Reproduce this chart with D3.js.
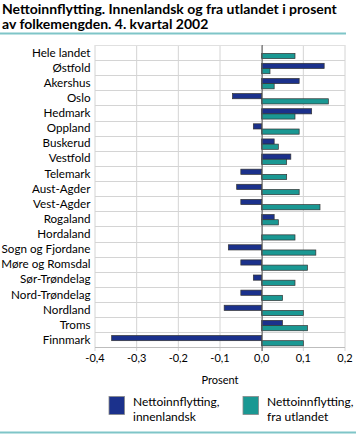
<!DOCTYPE html>
<html><head><meta charset="utf-8">
<script src="https://cdn.jsdelivr.net/npm/d3@7"></script>
<style>body{margin:0;background:#fff}svg{display:block}</style>
</head><body>
<svg id="c" width="356" height="434"></svg>
<script>
const categories = ["Hele landet","Østfold","Akershus","Oslo","Hedmark","Oppland","Buskerud","Vestfold","Telemark","Aust-Agder","Vest-Agder","Rogaland","Hordaland","Sogn og Fjordane","Møre og Romsdal","Sør-Trøndelag","Nord-Trøndelag","Nordland","Troms","Finnmark"];
const innenlandsk = [0.00,0.15,0.09,-0.07,0.12,-0.02,0.03,0.07,-0.05,-0.06,-0.05,0.03,0.00,-0.08,-0.05,-0.02,-0.05,-0.09,0.05,-0.36];
const utlandet = [0.08,0.02,0.03,0.16,0.08,0.09,0.04,0.06,0.06,0.09,0.14,0.04,0.08,0.13,0.11,0.08,0.05,0.10,0.11,0.10];
const ticks = [-0.4,-0.3,-0.2,-0.1,0.0,0.1,0.2];
const seriesNames = [["Nettoinnflytting,","innenlandsk"],["Nettoinnflytting,","fra utlandet"]];
const titleLines = ["Nettoinnflytting. Innenlandsk og fra utlandet i prosent","av folkemengden. 4. kvartal 2002"];
const axisTitle = "Prosent";

const colors = ["#1b318c","#1a9893"];
const font = "Lato, sans-serif";
const svg = d3.select("#c");

function fitSize(text, base, target, weight){
  const t = svg.append("text").attr("font-family",font).attr("font-size",base)
    .attr("font-weight",weight||"normal").text(text);
  const w = t.node().getComputedTextLength();
  t.remove();
  return base*target/w;
}

// title
const titleFs = Math.min(14, fitSize(titleLines[0], 13, 344, "bold"));
const tg = svg.append("g").attr("font-family", font).attr("font-weight","bold").attr("fill","#000").attr("font-size",titleFs);
titleLines.forEach((t,i)=>{
  tg.append("text").attr("x",2).attr("y",13.5+i*15.5).text(t);
});

svg.append("rect").attr("x",0).attr("y",32.5).attr("width",346).attr("height",2).attr("fill","#7fc5c8");
svg.append("rect").attr("x",0).attr("y",431.5).attr("width",356).attr("height",2).attr("fill","#7fc5c8");

const x = d3.scaleLinear().domain([-0.4,0.2]).range([95,345]);
const y = d3.scaleBand().domain(categories).range([45,347.4]);
const bw = y.bandwidth();

// grid
const g = svg.append("g");
g.selectAll("line.v").data(ticks).join("line")
  .attr("x1",d=>x(d)).attr("x2",d=>x(d)).attr("y1",45).attr("y2",351)
  .attr("stroke","#d4d4d4").attr("stroke-width",1);
g.selectAll("line.h").data(categories.slice(1)).join("line")
  .attr("x1",95).attr("x2",345).attr("y1",d=>Math.round(y(d))+0.5).attr("y2",d=>Math.round(y(d))+0.5)
  .attr("stroke","#d4d4d4").attr("stroke-width",1);
g.append("line").attr("x1",95).attr("x2",345).attr("y1",347.5).attr("y2",347.5).attr("stroke","#bdbdbd");
g.append("line").attr("x1",95).attr("x2",345).attr("y1",45.5).attr("y2",45.5).attr("stroke","#e0e0e0");

// bars
const bars = svg.append("g");
[innenlandsk, utlandet].forEach((vals,si)=>{
  bars.selectAll("rect.s"+si).data(categories).join("rect")
    .attr("x",(d,i)=>x(Math.min(0,vals[i])))
    .attr("width",(d,i)=>Math.abs(x(vals[i])-x(0)))
    .attr("y",d=>y(d)+3.2+si*5.2)
    .attr("height",5.2)
    .attr("fill",colors[si])
    .attr("stroke","#333").attr("stroke-width",0.7);
});
// zero line
svg.append("line").attr("x1",x(0)+0.5).attr("x2",x(0)+0.5).attr("y1",45).attr("y2",351).attr("stroke","#555").attr("stroke-width",1);

// category labels
const catFs = Math.min(13, fitSize("Sogn og Fjordane", 12, 89));
svg.append("g").attr("font-family",font).attr("font-size",catFs).attr("text-anchor","end")
  .selectAll("text").data(categories).join("text")
  .attr("x",90.5).attr("y",d=>y(d)+bw/2).attr("dy","0.35em").text(d=>d);

// tick labels
const fmt = d=>d3.format(".1f")(d).replace(".",",").replace("−","-");
svg.append("g").attr("font-family",font).attr("font-size",11).attr("text-anchor","middle")
  .selectAll("text").data(ticks).join("text")
  .attr("x",d=>x(d)).attr("y",358).attr("dy","0.35em").text(fmt);

svg.append("text").attr("font-family",font).attr("font-size",11).attr("text-anchor","middle")
  .attr("x",(x.range()[0]+x.range()[1])/2).attr("y",380).attr("dy","0.35em").text(axisTitle);

// legend
const legFs = Math.min(12, fitSize("Nettoinnflytting,", 11, 89));
const lx = [109,243];
seriesNames.forEach((lines,i)=>{
  const lg = svg.append("g");
  lg.append("rect").attr("x",lx[i]).attr("y",396.5).attr("width",15.5).attr("height",18)
    .attr("fill",colors[i]).attr("stroke","#888").attr("stroke-width",0.8);
  lines.forEach((t,j)=>{
    lg.append("text").attr("font-family",font).attr("font-size",legFs)
      .attr("x",lx[i]+24).attr("y",401.5+j*15).attr("dy","0.35em").text(t);
  });
});
</script>
</body></html>
